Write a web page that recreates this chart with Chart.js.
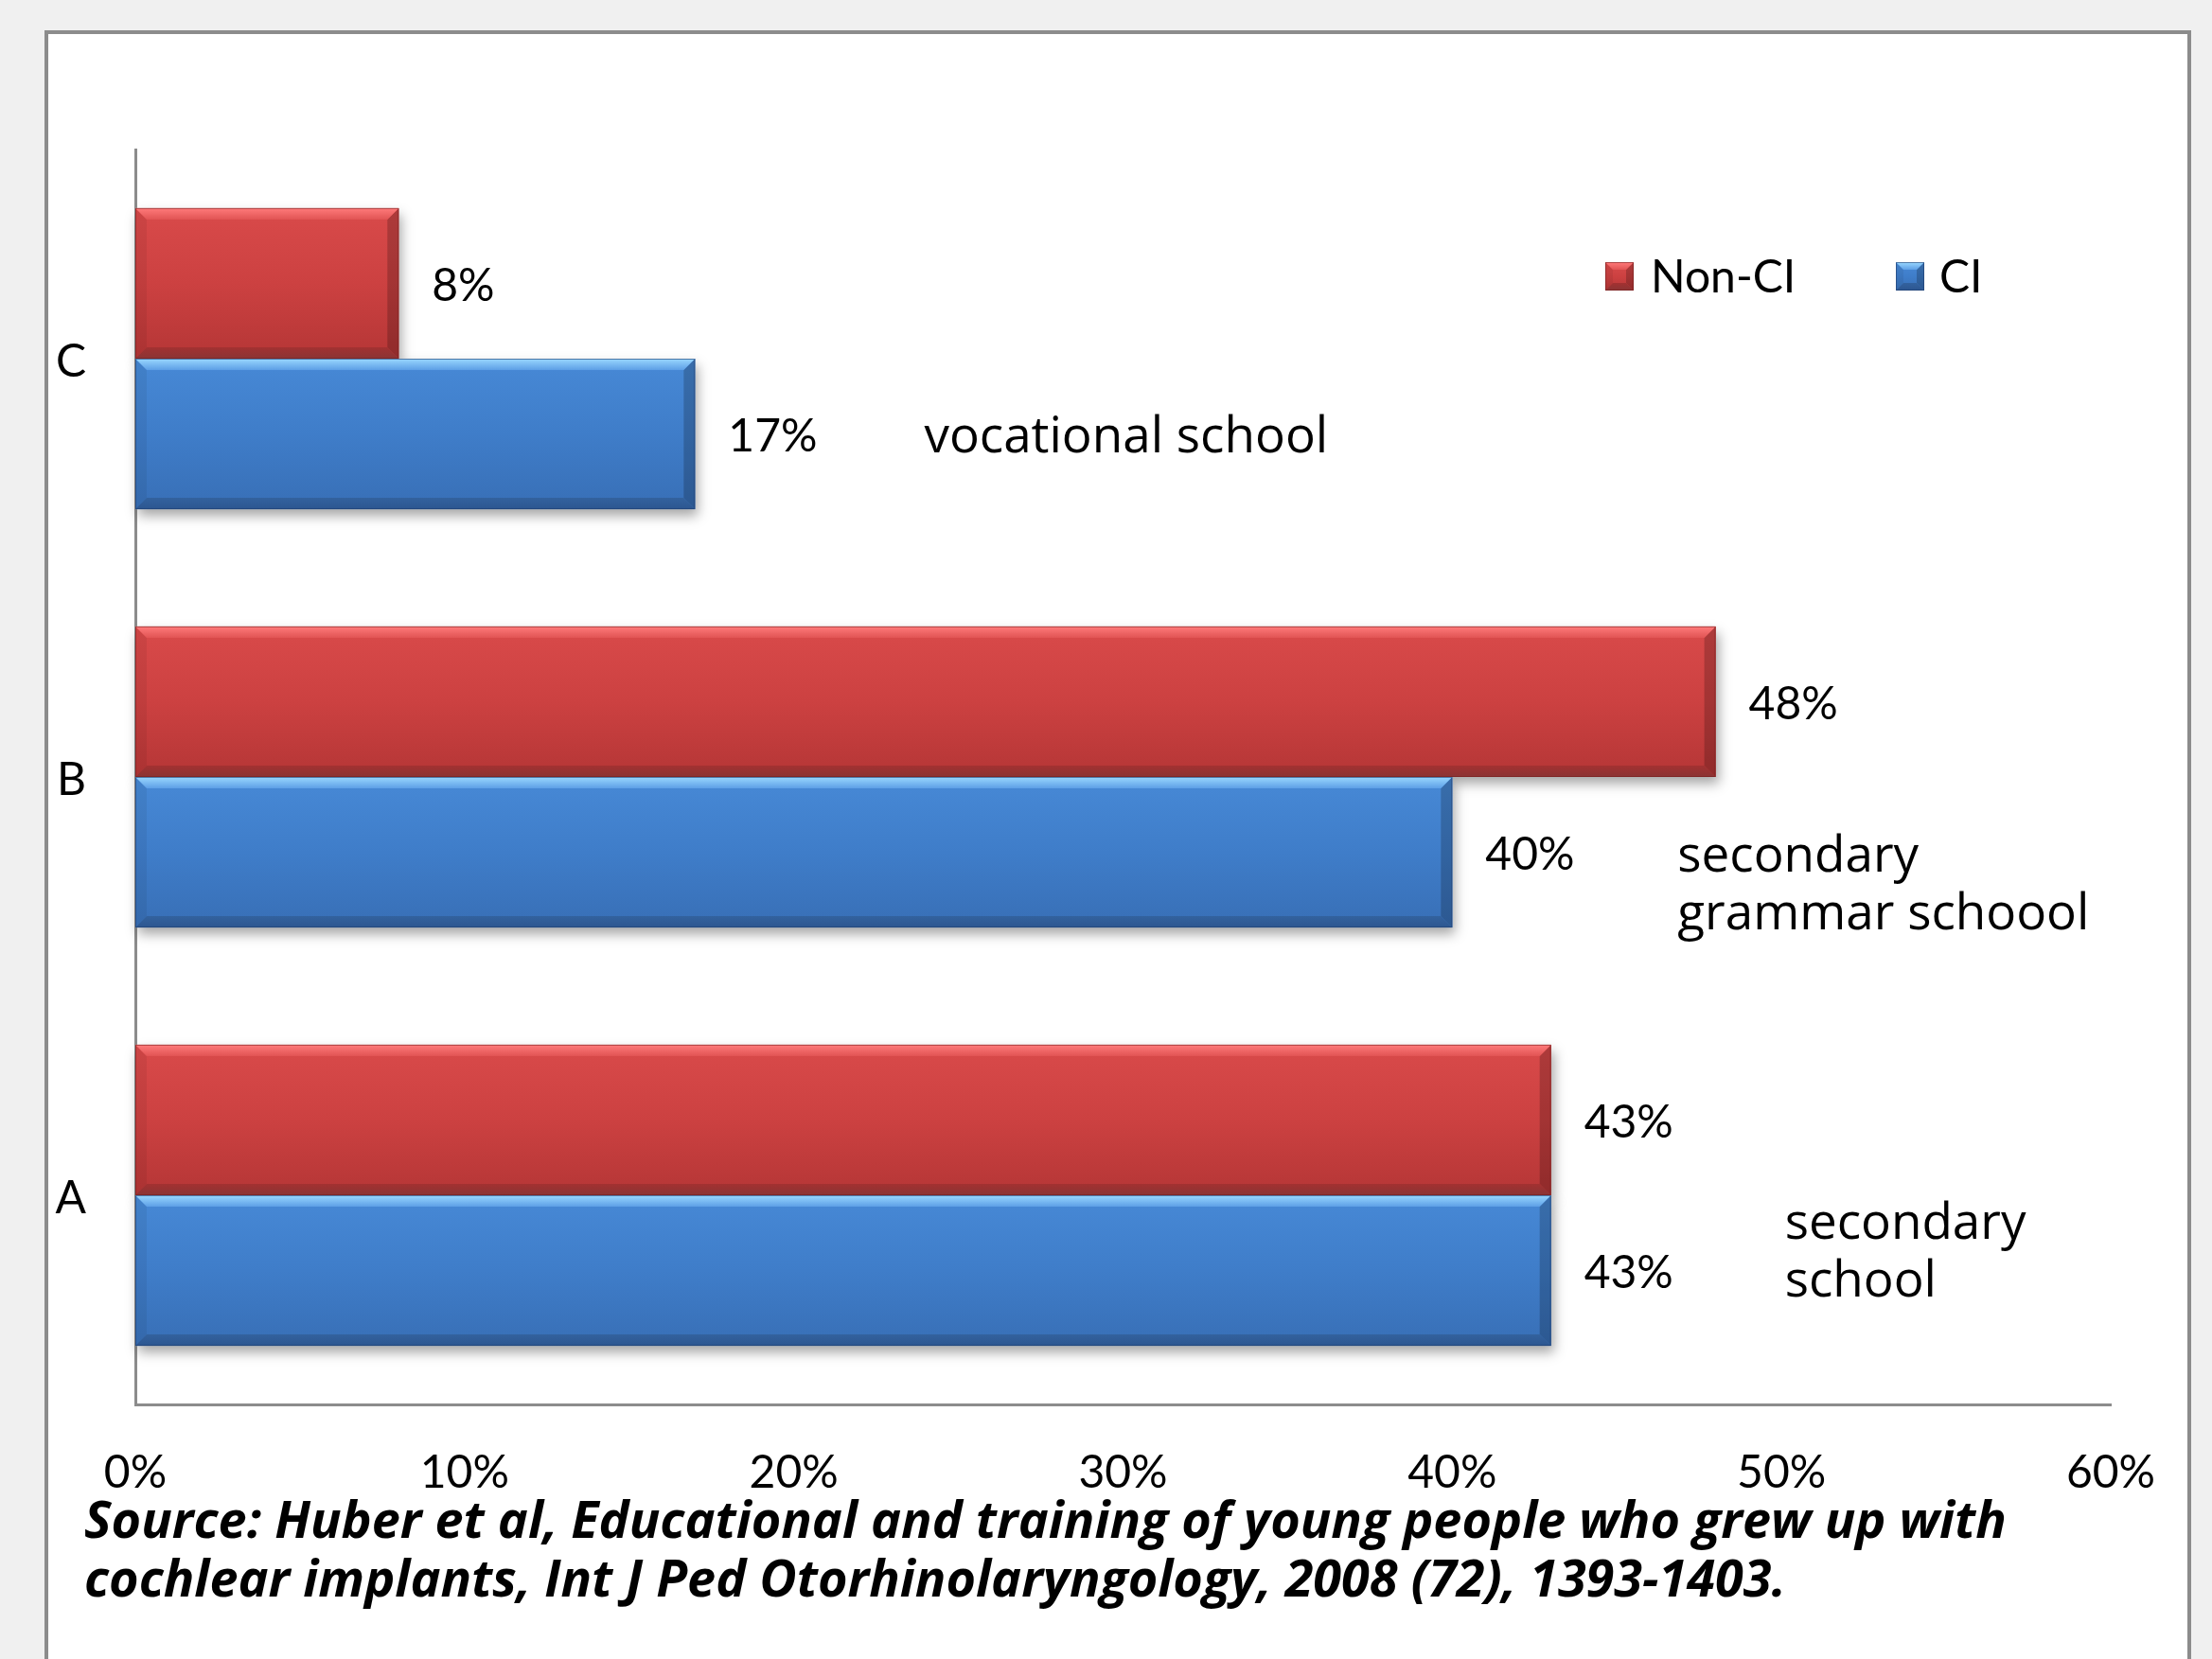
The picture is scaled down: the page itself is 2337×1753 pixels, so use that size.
<!DOCTYPE html>
<html><head><meta charset="utf-8">
<script src="https://cdn.jsdelivr.net/npm/chart.js@4.4.0/dist/chart.umd.min.js"></script>
<style>html,body{margin:0;padding:0;background:#f0f0f0;}#wrap{width:2337px;height:1753px;}</style>
</head><body><div id="wrap"><canvas id="c" width="2337" height="1753"></canvas></div>
<script>
// ---- data ----
const categories = ['C', 'B', 'A'];
const seriesNames = ['Non-CI', 'CI'];
const nonCI = [8, 48, 43];
const ci = [17, 40, 43];
const xTickValues = [0, 10, 20, 30, 40, 50, 60];
const noteTexts = [['vocational school'], ['secondary', 'grammar schoool'], ['secondary', 'school']];
const sourceLines = [
  'Source: Huber et al, Educational and training of young people who grew up with',
  'cochlear implants, Int J Ped Otorhinolaryngology, 2008 (72), 1393-1403.'
];

// ---- layout / style (not data) ----
const FONT = 'Lato, "Open Sans", sans-serif';
const FONT2 = '"Open Sans", Lato, sans-serif';
const L = { boxL: 49, boxT: 34, boxR: 2313, plotL: 143, plotT: 158, plotR: 2230, plotB: 1484 };
const noteX = [23.96, 46.84, 50.1];           // in axis units
const noteDY = [84, 85, 31];                  // px below category centre
const palettes = [
  { base: '#cc4141', top: '#d94a4a', mid: '#cc4141', bot: '#b53636', hiA: '#ff7b7b', hiB: '#e15454', loA: '#a33131', loB: '#8a3434', edge: 'rgba(120,30,30,0.6)' },
  { base: '#3f7dc9', top: '#4789d6', mid: '#3f7dc9', bot: '#386fb6', hiA: '#9ad8ff', hiB: '#5d9fe6', loA: '#33629e', loB: '#2c5690', edge: 'rgba(30,60,110,0.6)' }
];

function poly(ctx, pts, fill) {
  ctx.beginPath(); ctx.moveTo(pts[0][0], pts[0][1]);
  for (let i = 1; i < pts.length; i++) ctx.lineTo(pts[i][0], pts[i][1]);
  ctx.closePath(); ctx.fillStyle = fill; ctx.fill();
}
function vgrad(ctx, y0, y1, c0, c1) { const g = ctx.createLinearGradient(0, y0, 0, y1); g.addColorStop(0, c0); g.addColorStop(1, c1); return g; }
function bevel(ctx, l, t, r, b, p, s) {
  const g = ctx.createLinearGradient(0, t, 0, b);
  g.addColorStop(0, p.top); g.addColorStop(0.5, p.mid); g.addColorStop(1, p.bot);
  ctx.fillStyle = g; ctx.fillRect(l, t, r - l, b - t);
  poly(ctx, [[l, t], [l + s, t + s], [l + s, b - s], [l, b]], 'rgba(0,0,0,0.06)');
  poly(ctx, [[r, t], [r - s, t + s], [r - s, b - s], [r, b]], 'rgba(0,0,0,0.2)');
  poly(ctx, [[l, t], [r, t], [r - s, t + s], [l + s, t + s]], vgrad(ctx, t, t + s, p.hiA, p.hiB));
  poly(ctx, [[l, b], [r, b], [r - s, b - s], [l + s, b - s]], vgrad(ctx, b - s, b, p.loA, p.loB));
  ctx.strokeStyle = p.edge; ctx.lineWidth = 1; ctx.strokeRect(l + 0.5, t + 0.5, r - l - 1, b - t - 1);
}
function barRect(el) {
  const pr = el.getProps(['x', 'y', 'base', 'height'], true);
  return { l: Math.min(pr.x, pr.base), r: Math.max(pr.x, pr.base), t: pr.y - pr.height / 2, b: pr.y + pr.height / 2, y: pr.y, end: pr.x };
}

const deco = {
  id: 'deco',
  beforeDraw(chart) {
    const ctx = chart.ctx;
    ctx.save();
    ctx.fillStyle = '#f0f0f0'; ctx.fillRect(0, 0, chart.width, chart.height);
    ctx.fillStyle = '#ffffff'; ctx.fillRect(L.boxL, L.boxT, L.boxR - L.boxL, chart.height);
    ctx.strokeStyle = '#8c8c8c'; ctx.lineWidth = 4;
    ctx.beginPath(); ctx.moveTo(L.boxL, chart.height + 5); ctx.lineTo(L.boxL, L.boxT); ctx.lineTo(L.boxR, L.boxT); ctx.lineTo(L.boxR, chart.height + 5); ctx.stroke();
    ctx.restore();
  },
  beforeDatasetsDraw(chart) {
    const ctx = chart.ctx;
    ctx.save();
    chart.data.datasets.forEach((ds, di) => {
      chart.getDatasetMeta(di).data.forEach(el => {
        const r = barRect(el);
        ctx.shadowColor = 'rgba(0,0,0,0.35)'; ctx.shadowBlur = 12; ctx.shadowOffsetX = 3; ctx.shadowOffsetY = 7;
        ctx.fillStyle = '#ffffff'; ctx.fillRect(r.l, r.t, r.r - r.l, r.b - r.t);
      });
    });
    ctx.restore();
  },
  afterDatasetsDraw(chart) {
    const ctx = chart.ctx;
    const xs = chart.scales.x, ys = chart.scales.y;
    ctx.save();
    chart.data.datasets.forEach((ds, di) => {
      chart.getDatasetMeta(di).data.forEach((el, i) => {
        const r = barRect(el);
        bevel(ctx, r.l, r.t, r.r, r.b, palettes[di], 12);
        ctx.fillStyle = '#000'; ctx.font = '48px ' + FONT; ctx.textAlign = 'left'; ctx.textBaseline = 'middle';
        ctx.fillText(ds.data[i] + '%', r.end + 35, r.y + 3);
      });
    });
    // category notes
    ctx.font = '53px ' + FONT2; ctx.fillStyle = '#000'; ctx.textAlign = 'left'; ctx.textBaseline = 'middle';
    noteTexts.forEach((lines, i) => {
      const x = xs.getPixelForValue(noteX[i]);
      const y0 = ys.getPixelForValue(i) + noteDY[i];
      lines.forEach((t, k) => ctx.fillText(t, x, y0 + k * 61));
    });
    // legend
    const leg = [{ x: 1696, tx: 1744 }, { x: 2003, tx: 2049 }];
    chart.data.datasets.forEach((ds, di) => {
      const cy = 292, s = 30;
      bevel(ctx, leg[di].x, cy - s / 2, leg[di].x + s, cy + s / 2, palettes[di], 8);
      ctx.fillStyle = '#000'; ctx.font = '48px ' + FONT; ctx.textBaseline = 'middle';
      ctx.fillText(ds.label, leg[di].tx, cy + 2);
    });
    // source
    ctx.font = 'italic bold 54px ' + FONT2; ctx.fillStyle = '#000';
    sourceLines.forEach((t, k) => ctx.fillText(t, 89, 1610 + k * 62));
    ctx.restore();
  }
};

new Chart(document.getElementById('c'), {
  type: 'bar',
  data: {
    labels: categories,
    datasets: [
      { label: seriesNames[0], data: nonCI, backgroundColor: palettes[0].base, borderWidth: 0 },
      { label: seriesNames[1], data: ci, backgroundColor: palettes[1].base, borderWidth: 0 }
    ]
  },
  options: {
    indexAxis: 'y',
    responsive: false,
    animation: false,
    events: [],
    categoryPercentage: 0.72,
    barPercentage: 1.0,
    layout: { padding: { left: 0, top: L.plotT, right: 2337 - L.plotR, bottom: 0 } },
    plugins: { legend: { display: false }, tooltip: { enabled: false } },
    scales: {
      x: {
        min: 0, max: 60,
        afterBuildTicks: s => { s.ticks = xTickValues.map(v => ({ value: v })); },
        afterFit: s => { s.height = 1753 - L.plotB; },
        grid: { display: false },
        border: { display: true, color: '#8c8c8c', width: 3 },
        ticks: { callback: v => v + '%', color: '#000', font: { family: FONT, size: 48 }, padding: 36, maxRotation: 0 }
      },
      y: {
        afterFit: s => { s.width = L.plotL; },
        grid: { display: false },
        border: { display: true, color: '#8c8c8c', width: 3 },
        ticks: { color: '#000', font: { family: FONT, size: 48 }, padding: 44, labelOffset: 4 }
      }
    }
  },
  plugins: [deco]
});
</script></body></html>
